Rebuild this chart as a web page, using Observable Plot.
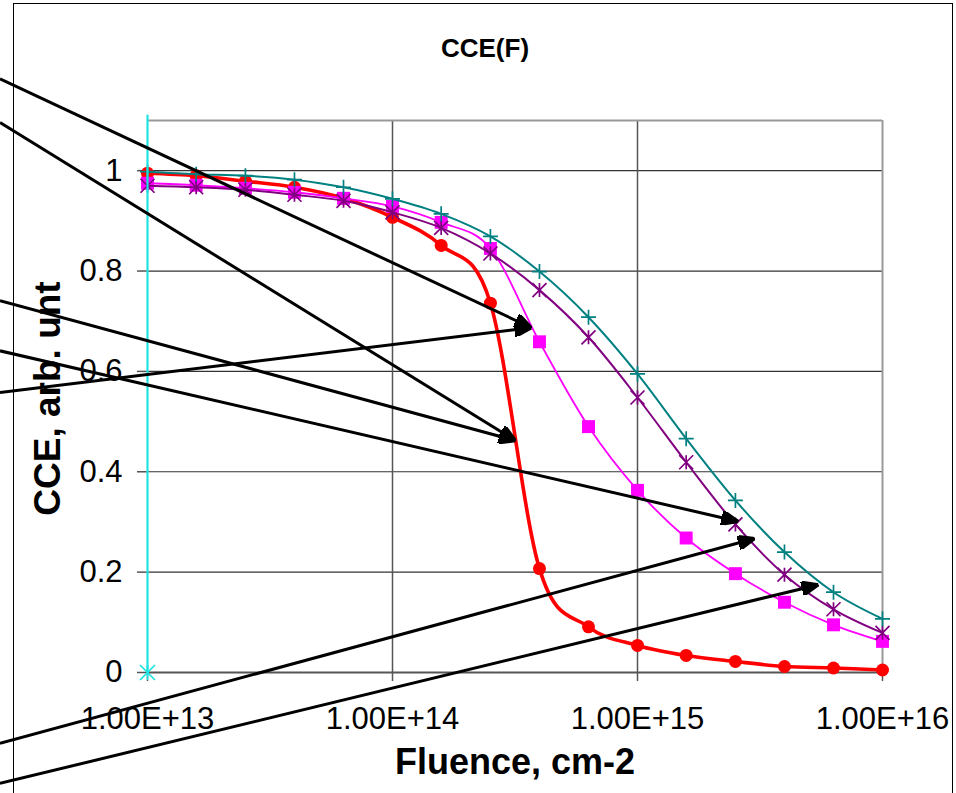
<!DOCTYPE html>
<html>
<head>
<meta charset="utf-8">
<script src="https://cdn.jsdelivr.net/npm/d3@7"></script>
<script src="https://cdn.jsdelivr.net/npm/@observablehq/plot@0.6"></script>
<style>
  html, body { margin: 0; padding: 0; background: #fff; }
  #chart { position: relative; width: 956px; height: 793px; overflow: hidden; }
  #border { position: absolute; left: 13px; top: 3px; width: 938px; height: 840px; border: 1.5px solid #000; pointer-events: none; }
</style>
</head>
<body>
<div id="chart"><div id="border"></div></div>
<script>
// Fluence steps (cm-2), five per decade
const fluence = [1e13, 1.58e13, 2.51e13, 3.98e13, 6.31e13, 1e14, 1.58e14, 2.51e14, 3.98e14, 6.31e14, 1e15, 1.58e15, 2.51e15, 3.98e15, 6.31e15, 1e16];

// Charge collection efficiency for each detector series
const cceRed     = [0.995, 0.990, 0.979, 0.967, 0.945, 0.907, 0.851, 0.736, 0.207, 0.091, 0.054, 0.034, 0.022, 0.012, 0.009, 0.005];
const cceMagenta = [0.975, 0.971, 0.965, 0.957, 0.945, 0.929, 0.897, 0.845, 0.659, 0.490, 0.363, 0.268, 0.197, 0.140, 0.095, 0.062];
const ccePurple  = [0.970, 0.967, 0.962, 0.952, 0.940, 0.917, 0.886, 0.835, 0.762, 0.668, 0.548, 0.419, 0.295, 0.195, 0.126, 0.079];
const cceTeal    = [0.998, 0.993, 0.990, 0.982, 0.967, 0.944, 0.914, 0.869, 0.799, 0.708, 0.595, 0.466, 0.343, 0.240, 0.160, 0.107];

// Vertical marker series at the lowest fluence
const cyanFluence = [1e13, 1e13];
const cyanCCE = [0, 1.11];

// Annotation arrows: start and end in (fluence, CCE)
const arrowFromF   = [2.5e12, 2.5e12, 2.5e12, 2.5e12, 2.5e12, 2.5e12, 2.5e12];
const arrowFromCCE = [1.183, 1.096, 0.741, 0.558, 0.641, -0.141, -0.221];
const arrowToF     = [3.69e14, 3.18e14, 3.18e14, 3.69e14, 2.58e15, 3.01e15, 5.48e15];
const arrowToCCE   = [0.687, 0.462, 0.462, 0.687, 0.301, 0.267, 0.175];

// Axis ticks and labels
const xTicks = [1e13, 1e14, 1e15, 1e16];
const xTickLabels = ["1.00E+13", "1.00E+14", "1.00E+15", "1.00E+16"];
const yTicks = [0, 0.2, 0.4, 0.6, 0.8, 1];
const yTickLabels = ["0", "0.2", "0.4", "0.6", "0.8", "1"];
const yGrid = [0.2, 0.4, 0.6, 0.8, 1];
const xGrid = [1e14, 1e15];

const title = "CCE(F)";
const xLabel = "Fluence, cm-2";
const yLabel = "CCE, arb. unt";

const rows = (ys) => fluence.map((f, i) => ({f, v: ys[i]}));
const cyanRows = cyanFluence.map((f, i) => ({f, v: cyanCCE[i]}));
const arrows = arrowFromF.map((f, i) => ({x1: f, y1: arrowFromCCE[i], x2: arrowToF[i], y2: arrowToCCE[i]}));

const xLabelOf = new Map(xTicks.map((t, i) => [t, xTickLabels[i]]));
const yLabelOf = new Map(yTicks.map((t, i) => [t, yTickLabels[i]]));

// Stroke-only marker shapes
const plusSymbol = {
  draw(ctx, size) {
    const r = Math.sqrt(size / Math.PI);
    ctx.moveTo(-r, 0); ctx.lineTo(r, 0);
    ctx.moveTo(0, -r); ctx.lineTo(0, r);
  }
};
const starSymbol = {
  draw(ctx, size) {
    const r = Math.sqrt(size / Math.PI);
    ctx.moveTo(-r, -r); ctx.lineTo(r, r);
    ctx.moveTo(-r, r); ctx.lineTo(r, -r);
    ctx.moveTo(0, -r); ctx.lineTo(0, r);
  }
};

// Solid triangular arrowhead
function filledArrow(color, context) {
  return d3.create("svg:marker")
    .attr("viewBox", "-17 -7 17 14")
    .attr("markerWidth", 17)
    .attr("markerHeight", 14)
    .attr("markerUnits", "userSpaceOnUse")
    .attr("refX", 0)
    .attr("refY", 0)
    .attr("orient", "auto")
    .call(m => m.append("path").attr("d", "M-17,-7L0,0L-17,7Z").attr("fill", color))
    .node();
}

const font = "Arial, 'Liberation Sans', Helvetica, sans-serif";

const chart = Plot.plot({
  width: 956,
  height: 793,
  marginLeft: 147,
  marginRight: 74,
  marginTop: 120,
  marginBottom: 121,
  style: {fontFamily: font, background: "transparent", color: "black"},
  x: {type: "log", domain: [1e13, 1e16]},
  y: {domain: [0, 1.1]},
  marks: [
    // grid and plot-area frame
    Plot.ruleY(yGrid, {stroke: "#333", strokeWidth: 1.2}),
    Plot.ruleX(xGrid, {stroke: "#555", strokeWidth: 1.5}),
    Plot.ruleY([1.1], {stroke: "#999", strokeWidth: 2}),
    Plot.ruleX([1e16], {stroke: "#999", strokeWidth: 2}),
    Plot.ruleY([0], {stroke: "#555", strokeWidth: 2}),
    Plot.axisY({ticks: yTicks, tickFormat: d => yLabelOf.get(d), tickSize: 10, tickPadding: 15,
      fontSize: 31, stroke: "#555", strokeWidth: 1.5, fill: "black", label: null}),
    Plot.axisX({ticks: xTicks, tickFormat: d => xLabelOf.get(d), tickSize: 9, tickPadding: 25,
      fontSize: 31, stroke: "#555", strokeWidth: 1.5, fill: "black", label: null}),

    // series
    Plot.line(rows(cceRed), {x: "f", y: "v", stroke: "#ff0000", strokeWidth: 3.6, curve: "cardinal"}),
    Plot.dot(rows(cceRed), {x: "f", y: "v", r: 6.5, fill: "#ff0000", stroke: "none"}),
    Plot.line(rows(cceMagenta), {x: "f", y: "v", stroke: "#ff00ff", strokeWidth: 1.8, curve: "cardinal"}),
    Plot.dot(rows(cceMagenta), {x: "f", y: "v", symbol: "square", r: 7.3, fill: "#ff00ff", stroke: "none"}),
    Plot.line(rows(ccePurple), {x: "f", y: "v", stroke: "#800080", strokeWidth: 2, curve: "cardinal"}),
    Plot.dot(rows(ccePurple), {x: "f", y: "v", symbol: starSymbol, r: 7, fill: "none", stroke: "#800080", strokeWidth: 1.7}),
    Plot.line(rows(cceTeal), {x: "f", y: "v", stroke: "#008080", strokeWidth: 2, curve: "cardinal"}),
    Plot.dot(rows(cceTeal), {x: "f", y: "v", symbol: plusSymbol, r: 7.5, fill: "none", stroke: "#008080", strokeWidth: 1.7}),
    Plot.line(cyanRows, {x: "f", y: "v", stroke: "#1ee3e3", strokeWidth: 2.2}),
    Plot.dot(cyanRows.slice(0, 1), {x: "f", y: "v", symbol: starSymbol, r: 7.5, fill: "none", stroke: "#1ee3e3", strokeWidth: 1.7}),

    // annotation arrows
    Plot.link(arrows, {x1: "x1", y1: "y1", x2: "x2", y2: "y2", stroke: "black", strokeWidth: 3, markerEnd: filledArrow}),

    // title and axis labels
    Plot.text([title], {text: d => d, frameAnchor: "top", textAnchor: "middle", lineAnchor: "bottom", dx: -30, dy: -64,
      fontSize: 26, fontWeight: "bold", fill: "black"}),
    Plot.text([xLabel], {text: d => d, frameAnchor: "bottom", textAnchor: "middle", lineAnchor: "bottom", dy: 101,
      fontSize: 36, fontWeight: "bold", fill: "black"}),
    Plot.text([yLabel], {text: d => d, frameAnchor: "left", textAnchor: "middle", lineAnchor: "bottom", rotate: -90, dx: -88, dy: 2,
      fontSize: 37, fontWeight: "bold", fill: "black"})
  ]
});

document.getElementById("chart").prepend(chart);
</script>
</body>
</html>
